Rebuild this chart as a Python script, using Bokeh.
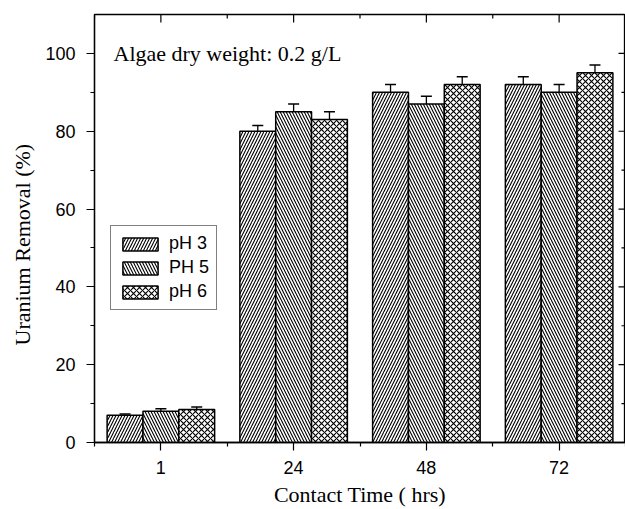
from bokeh.plotting import figure
from bokeh.models import (ColumnDataSource, FixedTicker, Range1d, Whisker,
                          Legend, LegendItem, Label, TeeHead, Title)
from bokeh.embed import file_html
from bokeh.resources import INLINE

times = ["1", "24", "48", "72"]
series = ["pH 3", "PH 5", "pH 6"]
ph3 = [7.0, 80.0, 90.0, 92.0]
ph5 = [8.0, 85.0, 87.0, 90.0]
ph6 = [8.5, 83.0, 92.0, 95.0]
ph3_err = [0.3, 1.5, 2.0, 2.0]
ph5_err = [0.7, 2.0, 2.0, 2.0]
ph6_err = [0.6, 2.0, 2.0, 2.0]
y_ticks = [0, 20, 40, 60, 80, 100]
y_minor = [10, 30, 50, 70, 90]
y_max = 110
x_title = "Contact Time ( hrs)"
y_title = "Uranium Removal (%)"
note = "Algae dry weight: 0.2 g/L"

values = [ph3, ph5, ph6]
errors = [ph3_err, ph5_err, ph6_err]
hatches = ["/", "\\", "x"]
bar_w = 0.27
offsets = [-bar_w, 0.0, bar_w]

W, H = 625, 509
BL, BT, BB = 94, 14, 67
p = figure(width=W, height=H, output_backend="svg", toolbar_location=None,
           x_range=Range1d(-0.5, len(times) - 0.5), y_range=Range1d(0, y_max),
           min_border_left=BL, min_border_top=BT, min_border_right=0, min_border_bottom=BB)
p.xgrid.visible = False
p.ygrid.visible = False
p.outline_line_color = "black"
p.outline_line_width = 1.3
p.background_fill_color = "white"
p.border_fill_color = "white"

idx = list(range(len(times)))
renderers = []
for vals, errs, hp, off in zip(values, errors, hatches, offsets):
    src = ColumnDataSource(dict(x=[i + off for i in idx], top=vals,
                                upper=[v + e for v, e in zip(vals, errs)]))
    r = p.vbar(x="x", top="top", bottom=0, width=bar_w, source=src,
               fill_color="white", line_color="black", line_width=1.5,
               hatch_pattern=hp, hatch_color="black", hatch_scale=6, hatch_weight=1.1)
    renderers.append(r)
    w = Whisker(source=src, base="x", lower="top", upper="upper", dimension="height",
                line_color="black", line_width=1.3,
                upper_head=TeeHead(size=11, line_color="black", line_width=1.5),
                lower_head=None, level="glyph")
    p.add_layout(w)

minor_x = [i - 0.5 for i in range(len(times) + 1)]
xt = FixedTicker(ticks=idx, minor_ticks=minor_x)
yt = FixedTicker(ticks=y_ticks, minor_ticks=y_minor)

# inward ticks on the top and right frame edges (lengths in px converted to data units)
px_x = (W - BL) / len(times)
px_y = (H - BT - BB) / y_max
x_hi = len(times) - 0.5
p.segment(x0=idx, y0=[y_max] * len(idx), x1=idx, y1=[y_max - 8 / px_y] * len(idx),
          line_color="black", line_width=1.2)
p.segment(x0=minor_x, y0=[y_max] * len(minor_x), x1=minor_x,
          y1=[y_max - 4 / px_y] * len(minor_x), line_color="black", line_width=1.2)
p.segment(x0=[x_hi] * len(y_ticks), y0=y_ticks, x1=[x_hi - 7 / px_x] * len(y_ticks),
          y1=y_ticks, line_color="black", line_width=1.2)
p.segment(x0=[x_hi] * len(y_minor), y0=y_minor, x1=[x_hi - 4 / px_x] * len(y_minor),
          y1=y_minor, line_color="black", line_width=1.2)

font_sans = "Liberation Sans"
font_serif = "Liberation Serif"

xa = p.xaxis[0]
xa.ticker = xt
xa.major_label_overrides = {i: t for i, t in zip(idx, times)}
xa.axis_label = x_title
ya = p.yaxis[0]
ya.ticker = yt

for ax in (xa, ya):
    ax.axis_line_color = "black"
    ax.axis_line_width = 1.3
    ax.major_tick_line_color = "black"
    ax.minor_tick_line_color = "black"
    ax.major_tick_line_width = 1.2
    ax.minor_tick_line_width = 1.2
    ax.major_tick_out = 8
    ax.major_tick_in = 0
    ax.minor_tick_out = 4
    ax.minor_tick_in = 0
    ax.major_label_text_font = font_sans
    ax.major_label_text_font_size = "18px"
    ax.major_label_text_color = "black"
    ax.axis_label_text_font = font_serif
    ax.axis_label_text_font_size = "22px"
    ax.axis_label_text_font_style = "normal"
    ax.axis_label_text_color = "black"
xa.major_label_standoff = 10
xa.axis_label_standoff = 5
ya.major_label_standoff = 11

# y-axis title as a side title so it can sit slightly below the frame's centre
p.add_layout(Title(text=y_title, align="left", vertical_align="middle", offset=97,
                   standoff=14, text_font=font_serif, text_font_size="22px",
                   text_font_style="normal", text_color="black"), "left")

legend = Legend(items=[LegendItem(label=s, renderers=[r]) for s, r in zip(series, renderers)],
                location=(16, 132), border_line_color="black", border_line_width=1,
                glyph_width=44, glyph_height=16, label_text_font=font_sans,
                label_text_font_size="18px", label_text_color="black",
                label_standoff=7, spacing=3, padding=7,
                margin=0, background_fill_color="white", background_fill_alpha=1.0)
p.add_layout(legend, "center")

p.add_layout(Label(x=-0.5, y=100, x_offset=19, text=note,
                   text_font=font_serif, text_font_size="22px", text_baseline="middle",
                   text_color="black"))

open("out.html", "w").write(file_html(p, INLINE))
